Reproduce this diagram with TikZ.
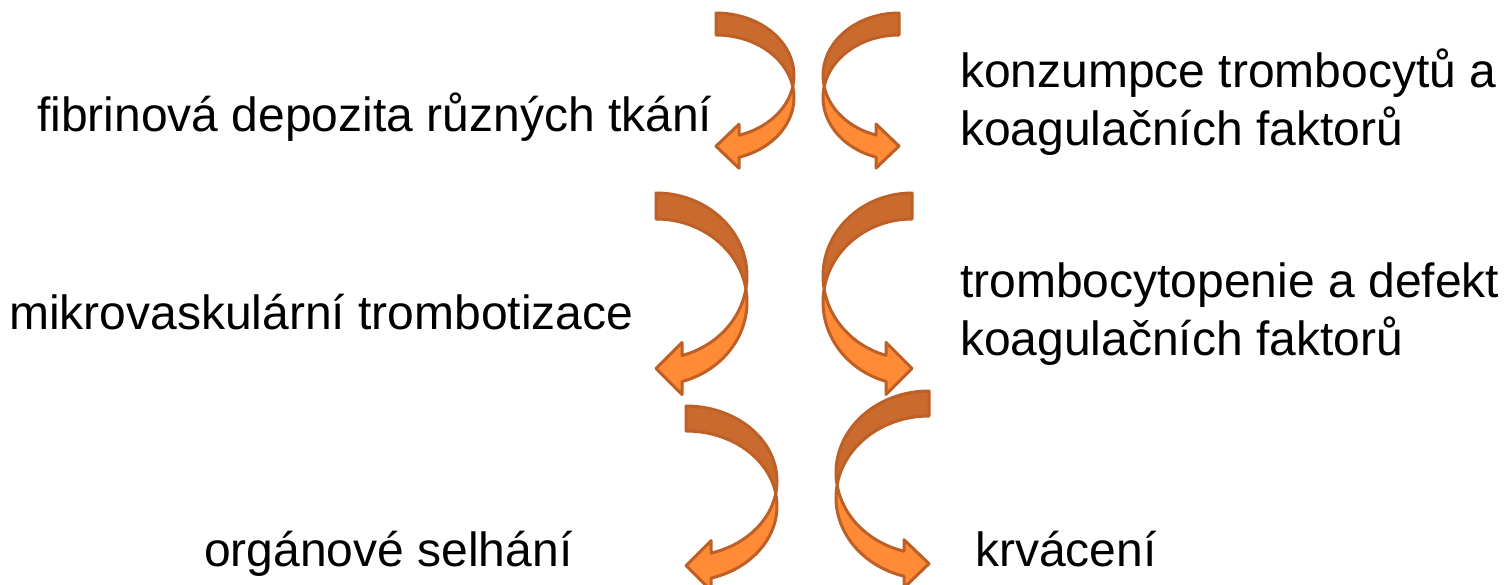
\documentclass[tikz,border=0pt]{standalone}
\usepackage{fontspec}
\setmainfont{Liberation Sans}

\definecolor{sipkatmava}{RGB}{201,106,46}
\definecolor{sipkasvetla}{RGB}{255,139,54}
\definecolor{sipkaobrys}{RGB}{190,96,38}

\tikzset{
  hornidil/.style={fill=sipkatmava, draw=sipkaobrys, line width=3pt, line join=round},
  dolnidil/.style={fill=sipkasvetla, draw=sipkaobrys, line width=3pt, line join=round},
  popis/.style={anchor=base west, inner sep=0pt, align=left, font=\fontsize{48}{58}\selectfont}
}

% zahnuta sipka: #1,#2 horni konec, #3 smer (1 vlevo, -1 vpravo), #4 sirka,
% #5 poloosa, #6 tloustka, #7 delka hrotu, #8 polovina hrotu
\newcommand{\zahnutasipka}[8]{%
  \begin{scope}[shift={(#1,#2)}, xscale=#3]
    \pgfmathsetmacro{\uc}{asin(#6/(2*#5))}
    \pgfmathsetmacro{\uh}{acos(#7/#4)}
    \pgfmathsetmacro{\hy}{#5+#6/2+#5*sin(\uh)}
    % horni cast
    \draw[hornidil] (0,0) arc[start angle=-90, end angle=\uc, x radius=#4, y radius=#5]
      arc[start angle=-\uc, end angle=-90, x radius=#4, y radius=#5] -- cycle;
    % dolni cast s hrotem
    \draw[dolnidil] ({#4*cos(\uc)},{#5+#6/2})
      arc[start angle=-\uc, end angle=\uh, x radius=#4, y radius=#5]
      -- (#7,\hy+#8) -- (0,\hy) -- (#7,\hy-#8) -- (#7,\hy-#6/2)
      arc[start angle=\uh, end angle=\uc, x radius=#4, y radius=#5] -- cycle;
  \end{scope}}

\begin{document}
\begin{tikzpicture}[x=1pt, y=-1pt]
    \useasboundingbox (0,0) rectangle (1507,584);

    % 1. rada
    \zahnutasipka{716}{13}{1}{78}{62.5}{22}{23}{22}
    \zahnutasipka{899}{13}{-1}{76}{62.5}{22}{23}{22}
    \node[popis] (fibrin) at (37,131) {fibrinová depozita různých tkání};
    \node[popis] (konzumpce) at (960,145) {konzumpce trombocytů a\\koagulačních faktorů};

    % 2. rada
    \zahnutasipka{656}{193}{1}{91}{83}{26}{26}{26}
    \zahnutasipka{912}{193}{-1}{89}{83}{26}{26}{26}
    \node[popis] (mikro) at (9,329) {mikrovaskulární trombotizace};
    \node[popis] (trombopenie) at (960,355) {trombocytopenie a defekt\\koagulačních faktorů};

    % 3. rada
    \zahnutasipka{686}{406}{1}{91}{75}{25}{25}{25}
    \zahnutasipka{929}{391}{-1}{93}{81.6}{25}{25}{24}
    \node[popis] (selhani) at (204,566) {orgánové selhání};
    \node[popis] (krvaceni) at (975,566) {krvácení};
\end{tikzpicture}
\end{document}
